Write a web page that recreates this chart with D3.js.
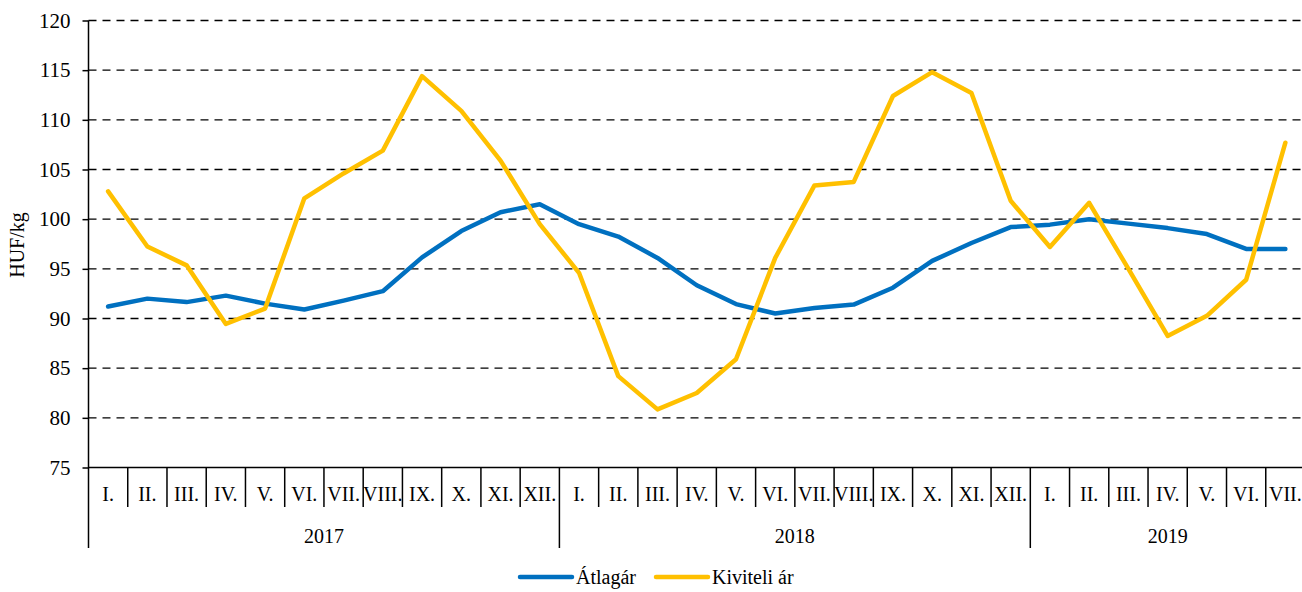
<!DOCTYPE html>
<html>
<head>
<meta charset="utf-8">
<script src="https://cdn.jsdelivr.net/npm/d3@7"></script>
<style>
  body { margin: 0; background: #fff; }
  svg { display: block; font-family: "Liberation Serif", "Times New Roman", serif; }
</style>
</head>
<body>
<script>
// months shown on the category axis
const months = ["I.", "II.", "III.", "IV.", "V.", "VI.", "VII.", "VIII.", "IX.", "X.", "XI.", "XII.",
                "I.", "II.", "III.", "IV.", "V.", "VI.", "VII.", "VIII.", "IX.", "X.", "XI.", "XII.",
                "I.", "II.", "III.", "IV.", "V.", "VI.", "VII."];
const years = ["2017", "2018", "2019"];
const yearCounts = [12, 12, 7];

const atlagar = [91.2, 92.0, 91.65, 92.3, 91.5, 90.9, 91.8, 92.75, 96.15, 98.8, 100.7, 101.5,
                 99.5, 98.25, 96.1, 93.35, 91.45, 90.5, 91.05, 91.4, 93.1, 95.8, 97.6, 99.2,
                 99.45, 100.0, 99.55, 99.1, 98.5, 97.0, 97.0];
const kiviteli = [102.8, 97.25, 95.35, 89.45, 91.0, 102.1, 104.6, 106.9, 114.4, 110.9, 105.9, 99.5,
                  94.6, 84.2, 80.85, 82.5, 85.9, 96.1, 103.4, 103.75, 112.4, 114.8, 112.7, 101.85,
                  97.2, 101.65, 95.0, 88.25, 90.27, 93.9, 107.7];
const yTicks = [75, 80, 85, 90, 95, 100, 105, 110, 115, 120];

(function() {
    const width = 1302,
          height = 592,
          plotLeft = 88.5,
          plotRight = 1305,
          plotTop = 20.5,
          plotBottom = 467.5;

    const svg = d3.select("body").append("svg")
        .attr("width", width)
        .attr("height", height);

    const x = d3.scaleBand()
        .domain(d3.range(months.length))
        .range([plotLeft, plotRight])
        .padding(0);

    const y = d3.scaleLinear()
        .domain([75, 120])
        .range([plotBottom, plotTop]);

    // dashed gridlines
    svg.append("g")
        .selectAll("line")
        .data(yTicks.filter(d => d > 75))
        .enter()
        .append("line")
        .attr("x1", plotLeft)
        .attr("x2", plotRight)
        .attr("y1", d => y(d))
        .attr("y2", d => y(d))
        .attr("stroke", "#000")
        .attr("stroke-width", 1.4)
        .attr("stroke-dasharray", "8,6");

    // y axis
    const yAxis = svg.append("g")
        .attr("transform", `translate(${plotLeft},0)`)
        .call(d3.axisLeft(y).tickValues(yTicks).tickSize(6).tickPadding(12).tickSizeOuter(0))
        .attr("font-family", null)
        .attr("font-size", null);
    yAxis.select(".domain").remove();
    yAxis.selectAll(".tick line").attr("stroke", "#000").attr("stroke-width", 1.5);
    yAxis.selectAll(".tick text")
        .attr("fill", "#000")
        .style("font-size", "21px");

    svg.append("text")
        .attr("transform", "translate(24,245) rotate(-90)")
        .attr("text-anchor", "middle")
        .style("font-size", "20px")
        .text("HUF/kg");

    // category axis lines
    svg.append("line")
        .attr("x1", plotLeft).attr("x2", plotLeft)
        .attr("y1", plotTop).attr("y2", 548)
        .attr("stroke", "#000").attr("stroke-width", 1.5);
    svg.append("line")
        .attr("x1", plotLeft).attr("x2", plotRight)
        .attr("y1", plotBottom).attr("y2", plotBottom)
        .attr("stroke", "#000").attr("stroke-width", 1.5);

    let yearStarts = [0];
    yearCounts.forEach((c, i) => yearStarts.push(yearStarts[i] + c));

    svg.append("g")
        .selectAll("line")
        .data(d3.range(1, months.length))
        .enter()
        .append("line")
        .attr("x1", d => x(d))
        .attr("x2", d => x(d))
        .attr("y1", plotBottom)
        .attr("y2", d => yearStarts.includes(d) ? 548 : 507)
        .attr("stroke", "#000")
        .attr("stroke-width", 1.5);

    svg.append("g")
        .selectAll("text")
        .data(months)
        .enter()
        .append("text")
        .attr("x", (d, i) => x(i) + x.bandwidth() / 2)
        .attr("y", 501)
        .attr("text-anchor", "middle")
        .style("font-size", "20px")
        .text(d => d);

    svg.append("g")
        .selectAll("text")
        .data(years)
        .enter()
        .append("text")
        .attr("x", (d, i) => (x(yearStarts[i]) + (i + 1 < years.length ? x(yearStarts[i + 1]) : plotRight)) / 2)
        .attr("y", 543)
        .attr("text-anchor", "middle")
        .style("font-size", "20px")
        .text(d => d);

    // series lines
    const line = d3.line()
        .x((d, i) => x(i) + x.bandwidth() / 2)
        .y(d => y(d));

    const series = [
        { name: "Átlagár", values: atlagar, color: "#0070C0" },
        { name: "Kiviteli ár", values: kiviteli, color: "#FFC000" }
    ];

    svg.append("g")
        .selectAll("path")
        .data(series)
        .enter()
        .append("path")
        .attr("d", d => line(d.values))
        .attr("fill", "none")
        .attr("stroke", d => d.color)
        .attr("stroke-width", 4.5)
        .attr("stroke-linejoin", "round")
        .attr("stroke-linecap", "round");

    // legend
    const legendPos = [520, 656];
    const legend = svg.append("g")
        .selectAll("g")
        .data(series)
        .enter()
        .append("g")
        .attr("transform", (d, i) => `translate(${legendPos[i]},577)`);
    legend.append("line")
        .attr("x1", 0).attr("x2", 52)
        .attr("stroke", d => d.color)
        .attr("stroke-width", 4.5)
        .attr("stroke-linecap", "round");
    legend.append("text")
        .attr("x", 56)
        .attr("y", 7)
        .style("font-size", "20px")
        .text(d => d.name);
})();
</script>
</body>
</html>
